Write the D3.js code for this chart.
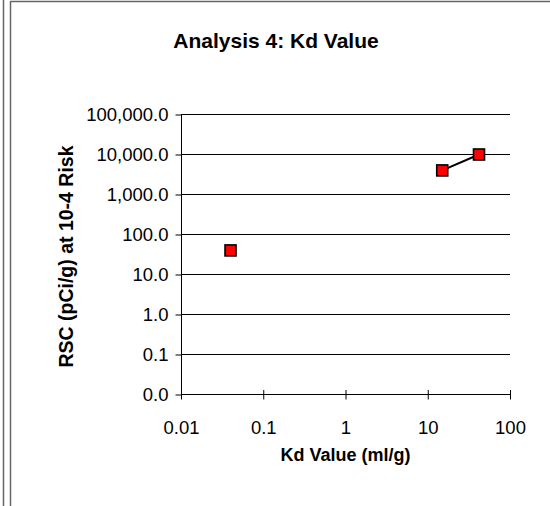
<!DOCTYPE html>
<html>
<head>
<meta charset="utf-8">
<script src="https://cdn.jsdelivr.net/npm/d3@7"></script>
<style>
  body { margin: 0; background: #fff; }
  text { font-family: "Liberation Sans", Arial, sans-serif; fill: #000; }
</style>
</head>
<body>
<div id="chart"></div>
<script>
// Data (log-log scatter, one gap between first and second point)
const kdValues = [0.04, null, 15, 42];
const rscValues = [40, null, 4000, 10000];
const xTicks = [0.01, 0.1, 1, 10, 100];
const yTicks = [0.01, 0.1, 1, 10, 100, 1000, 10000, 100000];

const chartTitle = 'Analysis 4: Kd Value';
const xTitle = 'Kd Value (ml/g)';
const yTitle = 'RSC (pCi/g) at 10-4 Risk';

const width = 550;
const height = 506;
const plot = { left: 181, right: 510, top: 114.5, bottom: 394.5 };

const svg = d3.select('#chart')
  .append('svg')
  .attr('width', width)
  .attr('height', height);

// Frame lines at left/top edge
svg.append('line')
  .attr('x1', 3.5).attr('x2', 3.5).attr('y1', 0).attr('y2', height)
  .style('stroke', '#666').style('stroke-width', 1.5);
svg.append('line')
  .attr('x1', 10.5).attr('x2', 10.5).attr('y1', 1).attr('y2', height)
  .style('stroke', '#666').style('stroke-width', 1.5);
svg.append('line')
  .attr('x1', 10).attr('x2', width).attr('y1', 1.5).attr('y2', 1.5)
  .style('stroke', '#666').style('stroke-width', 1.5);

const x = d3.scaleLog()
  .domain([0.01, 100])
  .range([plot.left, plot.right]);

const y = d3.scaleLog()
  .domain([0.01, 100000])
  .range([plot.bottom, plot.top]);

// Horizontal gridlines
svg.append('g')
  .selectAll('line')
  .data(yTicks.slice(1))
  .join('line')
  .attr('x1', plot.left)
  .attr('x2', plot.right)
  .attr('y1', d => y(d))
  .attr('y2', d => y(d))
  .style('stroke', '#000')
  .style('stroke-width', 1);

// Y axis
const yAxis = svg.append('g')
  .attr('transform', `translate(${plot.left + 0.5},0)`)
  .call(d3.axisLeft(y)
    .tickValues(yTicks)
    .tickSize(6)
    .tickPadding(7)
    .tickFormat(d3.format(',.1f')));
yAxis.select('.domain').attr('d', `M0,${plot.top}V${plot.bottom}`);

// X axis (ticks cross the axis line)
const xAxis = svg.append('g')
  .attr('transform', `translate(0,${plot.bottom})`)
  .call(d3.axisBottom(x)
    .tickValues(xTicks)
    .tickSize(0)
    .tickPadding(26)
    .tickFormat(d3.format('~g')));
xAxis.select('.domain').attr('d', `M${plot.left},0H${plot.right}`);
xAxis.selectAll('.tick').append('line')
  .attr('y1', -4.5).attr('y2', 5)
  .attr('stroke', '#000');

svg.selectAll('.domain').style('stroke', '#000');
svg.selectAll('.tick line').style('stroke', '#000');
svg.selectAll('.tick text')
  .style('font-size', '18.5px')
  .style('font-family', '"Liberation Sans", Arial, sans-serif');

// Series line
const pts = kdValues.map((k, i) => ({ k, r: rscValues[i] }));
const line = d3.line()
  .defined(d => d.k != null && d.r != null)
  .x(d => x(d.k))
  .y(d => y(d.r));

svg.append('path')
  .datum(pts)
  .attr('d', line)
  .style('fill', 'none')
  .style('stroke', '#000')
  .style('stroke-width', 2);

// Square markers
const size = 11;
svg.append('g')
  .selectAll('rect')
  .data(pts.filter(d => d.k != null))
  .join('rect')
  .attr('x', d => x(d.k) - size / 2)
  .attr('y', d => y(d.r) - size / 2)
  .attr('width', size)
  .attr('height', size)
  .style('fill', '#ff0000')
  .style('stroke', '#000')
  .style('stroke-width', 1.6);

// Titles
svg.append('text')
  .attr('x', 276)
  .attr('y', 48)
  .attr('text-anchor', 'middle')
  .style('font-size', '21px')
  .style('font-weight', 'bold')
  .text(chartTitle);

svg.append('text')
  .attr('x', (plot.left + plot.right) / 2)
  .attr('y', 461)
  .attr('text-anchor', 'middle')
  .style('font-size', '18px')
  .style('font-weight', 'bold')
  .text(xTitle);

svg.append('text')
  .attr('transform', `translate(73,${(plot.top + plot.bottom) / 2 + 2}) rotate(-90)`)
  .attr('text-anchor', 'middle')
  .style('font-size', '19.5px')
  .style('font-weight', 'bold')
  .text(yTitle);
</script>
</body>
</html>
